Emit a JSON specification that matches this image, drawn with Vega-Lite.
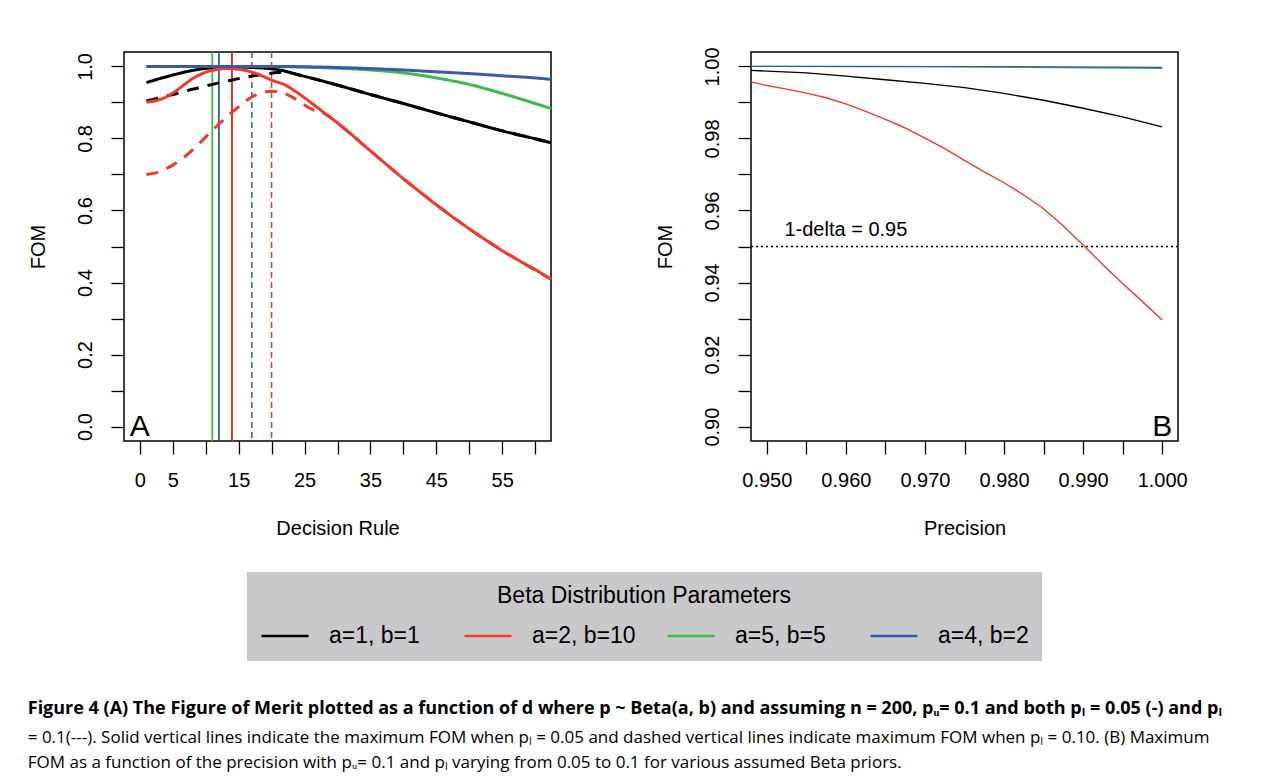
{
  "$schema": "https://vega.github.io/schema/vega-lite/v6.json",
  "background": "white",
  "padding": {"left": 27, "top": 46, "right": 0, "bottom": 4},
  "datasets": {
    "curvesA": [
      {"d": 1, "fom": 0.904, "prior": "a=1, b=1", "pL": "0.1"},
      {"d": 3, "fom": 0.913, "prior": "a=1, b=1", "pL": "0.1"},
      {"d": 5, "fom": 0.922, "prior": "a=1, b=1", "pL": "0.1"},
      {"d": 7, "fom": 0.932, "prior": "a=1, b=1", "pL": "0.1"},
      {"d": 9, "fom": 0.941, "prior": "a=1, b=1", "pL": "0.1"},
      {"d": 11, "fom": 0.95, "prior": "a=1, b=1", "pL": "0.1"},
      {"d": 13, "fom": 0.958, "prior": "a=1, b=1", "pL": "0.1"},
      {"d": 15, "fom": 0.966, "prior": "a=1, b=1", "pL": "0.1"},
      {"d": 17, "fom": 0.973, "prior": "a=1, b=1", "pL": "0.1"},
      {"d": 19, "fom": 0.979, "prior": "a=1, b=1", "pL": "0.1"},
      {"d": 21, "fom": 0.983, "prior": "a=1, b=1", "pL": "0.1"},
      {"d": 22, "fom": 0.984, "prior": "a=1, b=1", "pL": "0.1"},
      {"d": 23, "fom": 0.982, "prior": "a=1, b=1", "pL": "0.1"},
      {"d": 24, "fom": 0.977, "prior": "a=1, b=1", "pL": "0.1"},
      {"d": 27, "fom": 0.963, "prior": "a=1, b=1", "pL": "0.1"},
      {"d": 30, "fom": 0.948, "prior": "a=1, b=1", "pL": "0.1"},
      {"d": 35, "fom": 0.922, "prior": "a=1, b=1", "pL": "0.1"},
      {"d": 40, "fom": 0.897, "prior": "a=1, b=1", "pL": "0.1"},
      {"d": 45, "fom": 0.871, "prior": "a=1, b=1", "pL": "0.1"},
      {"d": 50, "fom": 0.846, "prior": "a=1, b=1", "pL": "0.1"},
      {"d": 55, "fom": 0.821, "prior": "a=1, b=1", "pL": "0.1"},
      {"d": 60, "fom": 0.799, "prior": "a=1, b=1", "pL": "0.1"},
      {"d": 62.4, "fom": 0.788, "prior": "a=1, b=1", "pL": "0.1"},
      {"d": 1, "fom": 0.955, "prior": "a=1, b=1", "pL": "0.05"},
      {"d": 3, "fom": 0.966, "prior": "a=1, b=1", "pL": "0.05"},
      {"d": 5, "fom": 0.976, "prior": "a=1, b=1", "pL": "0.05"},
      {"d": 7, "fom": 0.985, "prior": "a=1, b=1", "pL": "0.05"},
      {"d": 9, "fom": 0.992, "prior": "a=1, b=1", "pL": "0.05"},
      {"d": 11, "fom": 0.996, "prior": "a=1, b=1", "pL": "0.05"},
      {"d": 13, "fom": 0.998, "prior": "a=1, b=1", "pL": "0.05"},
      {"d": 15, "fom": 0.998, "prior": "a=1, b=1", "pL": "0.05"},
      {"d": 17, "fom": 0.997, "prior": "a=1, b=1", "pL": "0.05"},
      {"d": 19, "fom": 0.995, "prior": "a=1, b=1", "pL": "0.05"},
      {"d": 21, "fom": 0.991, "prior": "a=1, b=1", "pL": "0.05"},
      {"d": 24, "fom": 0.977, "prior": "a=1, b=1", "pL": "0.05"},
      {"d": 27, "fom": 0.963, "prior": "a=1, b=1", "pL": "0.05"},
      {"d": 30, "fom": 0.948, "prior": "a=1, b=1", "pL": "0.05"},
      {"d": 35, "fom": 0.922, "prior": "a=1, b=1", "pL": "0.05"},
      {"d": 40, "fom": 0.897, "prior": "a=1, b=1", "pL": "0.05"},
      {"d": 45, "fom": 0.871, "prior": "a=1, b=1", "pL": "0.05"},
      {"d": 50, "fom": 0.846, "prior": "a=1, b=1", "pL": "0.05"},
      {"d": 55, "fom": 0.821, "prior": "a=1, b=1", "pL": "0.05"},
      {"d": 60, "fom": 0.799, "prior": "a=1, b=1", "pL": "0.05"},
      {"d": 62.4, "fom": 0.788, "prior": "a=1, b=1", "pL": "0.05"},
      {"d": 1, "fom": 0.7, "prior": "a=2, b=10", "pL": "0.1"},
      {"d": 2, "fom": 0.703, "prior": "a=2, b=10", "pL": "0.1"},
      {"d": 3, "fom": 0.708, "prior": "a=2, b=10", "pL": "0.1"},
      {"d": 4, "fom": 0.716, "prior": "a=2, b=10", "pL": "0.1"},
      {"d": 5, "fom": 0.726, "prior": "a=2, b=10", "pL": "0.1"},
      {"d": 6, "fom": 0.738, "prior": "a=2, b=10", "pL": "0.1"},
      {"d": 7, "fom": 0.752, "prior": "a=2, b=10", "pL": "0.1"},
      {"d": 8, "fom": 0.768, "prior": "a=2, b=10", "pL": "0.1"},
      {"d": 9, "fom": 0.786, "prior": "a=2, b=10", "pL": "0.1"},
      {"d": 10, "fom": 0.804, "prior": "a=2, b=10", "pL": "0.1"},
      {"d": 11, "fom": 0.822, "prior": "a=2, b=10", "pL": "0.1"},
      {"d": 12, "fom": 0.84, "prior": "a=2, b=10", "pL": "0.1"},
      {"d": 13, "fom": 0.857, "prior": "a=2, b=10", "pL": "0.1"},
      {"d": 14, "fom": 0.873, "prior": "a=2, b=10", "pL": "0.1"},
      {"d": 15, "fom": 0.888, "prior": "a=2, b=10", "pL": "0.1"},
      {"d": 16, "fom": 0.903, "prior": "a=2, b=10", "pL": "0.1"},
      {"d": 17, "fom": 0.915, "prior": "a=2, b=10", "pL": "0.1"},
      {"d": 18, "fom": 0.924, "prior": "a=2, b=10", "pL": "0.1"},
      {"d": 19, "fom": 0.929, "prior": "a=2, b=10", "pL": "0.1"},
      {"d": 20, "fom": 0.931, "prior": "a=2, b=10", "pL": "0.1"},
      {"d": 21, "fom": 0.93, "prior": "a=2, b=10", "pL": "0.1"},
      {"d": 22, "fom": 0.925, "prior": "a=2, b=10", "pL": "0.1"},
      {"d": 23, "fom": 0.916, "prior": "a=2, b=10", "pL": "0.1"},
      {"d": 24, "fom": 0.905, "prior": "a=2, b=10", "pL": "0.1"},
      {"d": 25, "fom": 0.893, "prior": "a=2, b=10", "pL": "0.1"},
      {"d": 26, "fom": 0.882, "prior": "a=2, b=10", "pL": "0.1"},
      {"d": 27, "fom": 0.874, "prior": "a=2, b=10", "pL": "0.1"},
      {"d": 28, "fom": 0.869, "prior": "a=2, b=10", "pL": "0.1"},
      {"d": 30, "fom": 0.843, "prior": "a=2, b=10", "pL": "0.1"},
      {"d": 34, "fom": 0.781, "prior": "a=2, b=10", "pL": "0.1"},
      {"d": 40, "fom": 0.688, "prior": "a=2, b=10", "pL": "0.1"},
      {"d": 46, "fom": 0.602, "prior": "a=2, b=10", "pL": "0.1"},
      {"d": 52, "fom": 0.524, "prior": "a=2, b=10", "pL": "0.1"},
      {"d": 58, "fom": 0.456, "prior": "a=2, b=10", "pL": "0.1"},
      {"d": 62.4, "fom": 0.409, "prior": "a=2, b=10", "pL": "0.1"},
      {"d": 1, "fom": 0.901, "prior": "a=2, b=10", "pL": "0.05"},
      {"d": 2, "fom": 0.903, "prior": "a=2, b=10", "pL": "0.05"},
      {"d": 3, "fom": 0.908, "prior": "a=2, b=10", "pL": "0.05"},
      {"d": 4, "fom": 0.915, "prior": "a=2, b=10", "pL": "0.05"},
      {"d": 5, "fom": 0.926, "prior": "a=2, b=10", "pL": "0.05"},
      {"d": 6, "fom": 0.939, "prior": "a=2, b=10", "pL": "0.05"},
      {"d": 7, "fom": 0.953, "prior": "a=2, b=10", "pL": "0.05"},
      {"d": 8, "fom": 0.966, "prior": "a=2, b=10", "pL": "0.05"},
      {"d": 9, "fom": 0.976, "prior": "a=2, b=10", "pL": "0.05"},
      {"d": 10, "fom": 0.984, "prior": "a=2, b=10", "pL": "0.05"},
      {"d": 11, "fom": 0.989, "prior": "a=2, b=10", "pL": "0.05"},
      {"d": 12, "fom": 0.992, "prior": "a=2, b=10", "pL": "0.05"},
      {"d": 13, "fom": 0.994, "prior": "a=2, b=10", "pL": "0.05"},
      {"d": 14, "fom": 0.994, "prior": "a=2, b=10", "pL": "0.05"},
      {"d": 15, "fom": 0.992, "prior": "a=2, b=10", "pL": "0.05"},
      {"d": 16, "fom": 0.989, "prior": "a=2, b=10", "pL": "0.05"},
      {"d": 17, "fom": 0.984, "prior": "a=2, b=10", "pL": "0.05"},
      {"d": 18, "fom": 0.978, "prior": "a=2, b=10", "pL": "0.05"},
      {"d": 19, "fom": 0.97, "prior": "a=2, b=10", "pL": "0.05"},
      {"d": 20, "fom": 0.962, "prior": "a=2, b=10", "pL": "0.05"},
      {"d": 22, "fom": 0.949, "prior": "a=2, b=10", "pL": "0.05"},
      {"d": 24, "fom": 0.926, "prior": "a=2, b=10", "pL": "0.05"},
      {"d": 26, "fom": 0.899, "prior": "a=2, b=10", "pL": "0.05"},
      {"d": 28, "fom": 0.871, "prior": "a=2, b=10", "pL": "0.05"},
      {"d": 30, "fom": 0.843, "prior": "a=2, b=10", "pL": "0.05"},
      {"d": 32, "fom": 0.813, "prior": "a=2, b=10", "pL": "0.05"},
      {"d": 34, "fom": 0.781, "prior": "a=2, b=10", "pL": "0.05"},
      {"d": 36, "fom": 0.75, "prior": "a=2, b=10", "pL": "0.05"},
      {"d": 38, "fom": 0.719, "prior": "a=2, b=10", "pL": "0.05"},
      {"d": 40, "fom": 0.688, "prior": "a=2, b=10", "pL": "0.05"},
      {"d": 42, "fom": 0.659, "prior": "a=2, b=10", "pL": "0.05"},
      {"d": 44, "fom": 0.63, "prior": "a=2, b=10", "pL": "0.05"},
      {"d": 46, "fom": 0.602, "prior": "a=2, b=10", "pL": "0.05"},
      {"d": 48, "fom": 0.575, "prior": "a=2, b=10", "pL": "0.05"},
      {"d": 50, "fom": 0.549, "prior": "a=2, b=10", "pL": "0.05"},
      {"d": 52, "fom": 0.524, "prior": "a=2, b=10", "pL": "0.05"},
      {"d": 54, "fom": 0.5, "prior": "a=2, b=10", "pL": "0.05"},
      {"d": 56, "fom": 0.477, "prior": "a=2, b=10", "pL": "0.05"},
      {"d": 58, "fom": 0.456, "prior": "a=2, b=10", "pL": "0.05"},
      {"d": 60, "fom": 0.436, "prior": "a=2, b=10", "pL": "0.05"},
      {"d": 62.4, "fom": 0.409, "prior": "a=2, b=10", "pL": "0.05"},
      {"d": 1, "fom": 1.0, "prior": "a=5, b=5", "pL": "0.05"},
      {"d": 10, "fom": 1.0, "prior": "a=5, b=5", "pL": "0.05"},
      {"d": 20, "fom": 0.9995, "prior": "a=5, b=5", "pL": "0.05"},
      {"d": 25, "fom": 0.998, "prior": "a=5, b=5", "pL": "0.05"},
      {"d": 30, "fom": 0.995, "prior": "a=5, b=5", "pL": "0.05"},
      {"d": 35, "fom": 0.99, "prior": "a=5, b=5", "pL": "0.05"},
      {"d": 40, "fom": 0.982, "prior": "a=5, b=5", "pL": "0.05"},
      {"d": 45, "fom": 0.968, "prior": "a=5, b=5", "pL": "0.05"},
      {"d": 50, "fom": 0.95, "prior": "a=5, b=5", "pL": "0.05"},
      {"d": 55, "fom": 0.925, "prior": "a=5, b=5", "pL": "0.05"},
      {"d": 60, "fom": 0.897, "prior": "a=5, b=5", "pL": "0.05"},
      {"d": 62.4, "fom": 0.883, "prior": "a=5, b=5", "pL": "0.05"},
      {"d": 1, "fom": 1.0, "prior": "a=4, b=2", "pL": "0.05"},
      {"d": 10, "fom": 1.0, "prior": "a=4, b=2", "pL": "0.05"},
      {"d": 20, "fom": 1.0, "prior": "a=4, b=2", "pL": "0.05"},
      {"d": 25, "fom": 0.999, "prior": "a=4, b=2", "pL": "0.05"},
      {"d": 30, "fom": 0.997, "prior": "a=4, b=2", "pL": "0.05"},
      {"d": 35, "fom": 0.994, "prior": "a=4, b=2", "pL": "0.05"},
      {"d": 40, "fom": 0.99, "prior": "a=4, b=2", "pL": "0.05"},
      {"d": 45, "fom": 0.985, "prior": "a=4, b=2", "pL": "0.05"},
      {"d": 50, "fom": 0.98, "prior": "a=4, b=2", "pL": "0.05"},
      {"d": 55, "fom": 0.974, "prior": "a=4, b=2", "pL": "0.05"},
      {"d": 60, "fom": 0.968, "prior": "a=4, b=2", "pL": "0.05"},
      {"d": 62.4, "fom": 0.964, "prior": "a=4, b=2", "pL": "0.05"}
    ],
    "vlinesA": [
      {"d": 11, "prior": "a=5, b=5", "pL": "0.05"},
      {"d": 12, "prior": "a=4, b=2", "pL": "0.05"},
      {"d": 14, "prior": "a=1, b=1", "pL": "0.05"},
      {"d": 14, "prior": "a=2, b=10", "pL": "0.05"},
      {"d": 17, "prior": "a=4, b=2", "pL": "0.1"},
      {"d": 20, "prior": "a=2, b=10", "pL": "0.1"}
    ],
    "curvesB": [
      {"prec": 0.948, "fom": 0.9989, "prior": "a=1, b=1"},
      {"prec": 0.955, "fom": 0.9982, "prior": "a=1, b=1"},
      {"prec": 0.96, "fom": 0.9973, "prior": "a=1, b=1"},
      {"prec": 0.965, "fom": 0.9963, "prior": "a=1, b=1"},
      {"prec": 0.97, "fom": 0.9953, "prior": "a=1, b=1"},
      {"prec": 0.975, "fom": 0.9941, "prior": "a=1, b=1"},
      {"prec": 0.98, "fom": 0.9925, "prior": "a=1, b=1"},
      {"prec": 0.985, "fom": 0.9906, "prior": "a=1, b=1"},
      {"prec": 0.99, "fom": 0.9884, "prior": "a=1, b=1"},
      {"prec": 0.995, "fom": 0.986, "prior": "a=1, b=1"},
      {"prec": 1.0, "fom": 0.9832, "prior": "a=1, b=1"},
      {"prec": 0.948, "fom": 0.9957, "prior": "a=2, b=10"},
      {"prec": 0.95, "fom": 0.9947, "prior": "a=2, b=10"},
      {"prec": 0.9525, "fom": 0.9937, "prior": "a=2, b=10"},
      {"prec": 0.955, "fom": 0.9926, "prior": "a=2, b=10"},
      {"prec": 0.9575, "fom": 0.9913, "prior": "a=2, b=10"},
      {"prec": 0.96, "fom": 0.9896, "prior": "a=2, b=10"},
      {"prec": 0.9625, "fom": 0.9875, "prior": "a=2, b=10"},
      {"prec": 0.965, "fom": 0.9853, "prior": "a=2, b=10"},
      {"prec": 0.9675, "fom": 0.9829, "prior": "a=2, b=10"},
      {"prec": 0.97, "fom": 0.9801, "prior": "a=2, b=10"},
      {"prec": 0.9725, "fom": 0.9772, "prior": "a=2, b=10"},
      {"prec": 0.975, "fom": 0.9739, "prior": "a=2, b=10"},
      {"prec": 0.9775, "fom": 0.9707, "prior": "a=2, b=10"},
      {"prec": 0.98, "fom": 0.9677, "prior": "a=2, b=10"},
      {"prec": 0.9825, "fom": 0.9643, "prior": "a=2, b=10"},
      {"prec": 0.985, "fom": 0.9605, "prior": "a=2, b=10"},
      {"prec": 0.9875, "fom": 0.9557, "prior": "a=2, b=10"},
      {"prec": 0.99, "fom": 0.9504, "prior": "a=2, b=10"},
      {"prec": 0.9925, "fom": 0.9449, "prior": "a=2, b=10"},
      {"prec": 0.995, "fom": 0.9397, "prior": "a=2, b=10"},
      {"prec": 0.9975, "fom": 0.9347, "prior": "a=2, b=10"},
      {"prec": 1.0, "fom": 0.9296, "prior": "a=2, b=10"},
      {"prec": 0.948, "fom": 1.0, "prior": "a=5, b=5"},
      {"prec": 0.97, "fom": 0.99995, "prior": "a=5, b=5"},
      {"prec": 1.0, "fom": 0.9995, "prior": "a=5, b=5"},
      {"prec": 0.948, "fom": 1.0, "prior": "a=4, b=2"},
      {"prec": 0.98, "fom": 0.99995, "prior": "a=4, b=2"},
      {"prec": 1.0, "fom": 0.9997, "prior": "a=4, b=2"}
    ]
  },
  "config": {
    "view": {"stroke": "black", "strokeWidth": 1.5},
    "axis": {
      "domain": false, "grid": false, "ticks": true, "tickColor": "black", "tickSize": 13, "tickWidth": 1.3, "tickCount": 30,
      "labelFont": "Liberation Sans", "labelFontSize": 20, "labelColor": "black",
      "titleFont": "Liberation Sans", "titleFontSize": 20, "titleFontWeight": "normal", "titleColor": "black",
      "labelOverlap": false, "labelBound": false, "labelFlush": false
    },
    "axisX": {"labelPadding": 16, "titlePadding": 28},
    "axisY": {"labelAngle": 270, "labelAlign": "center", "labelBaseline": "bottom", "labelPadding": 15.5, "titlePadding": 27},
    "legend": {
      "orient": "none", "legendX": 123, "legendY": 520, "direction": "horizontal", "columns": 4, "gridAlign": "all",
      "fillColor": "#c9c9cb", "strokeColor": null, "padding": 13,
      "titleFont": "Liberation Sans", "titleFontSize": 23, "titleFontWeight": "normal", "titleColor": "black",
      "titleAnchor": "middle", "titleOrient": "top", "titlePadding": 3, "titleLimit": 1000,
      "labelFont": "Liberation Sans", "labelFontSize": 23, "labelColor": "black", "labelOffset": 19, "labelLimit": 1000,
      "symbolType": "stroke", "symbolSize": 2209, "symbolStrokeWidth": 2.5, "columnPadding": 26
    }
  },
  "hconcat": [
    {
      "width": 427,
      "height": 389,
      "layer": [
        {
          "data": {"name": "vlinesA"},
          "transform": [{"filter": "datum.pL == '0.05'"}],
          "mark": {"type": "rule", "strokeWidth": 1.8},
          "encoding": {
            "x": {"field": "d", "type": "quantitative", "title": "Decision Rule", "scale": {"domain": [-2.4, 62.4], "nice": false, "zero": false}},
            "color": {"field": "prior", "type": "nominal", "title": "Beta Distribution Parameters", "scale": {"domain": ["a=1, b=1", "a=2, b=10", "a=5, b=5", "a=4, b=2"], "range": ["#000000", "#ee3b2b", "#3fb94b", "#3a5aa8"]}}
          }
        },
        {
          "data": {"name": "vlinesA"},
          "transform": [{"filter": "datum.pL == '0.1'"}],
          "mark": {"type": "rule", "strokeWidth": 1.5, "strokeDash": [6, 4]},
          "encoding": {
            "x": {"field": "d", "type": "quantitative", "title": "Decision Rule", "scale": {"domain": [-2.4, 62.4], "nice": false, "zero": false}},
            "color": {"field": "prior", "type": "nominal", "title": "Beta Distribution Parameters", "scale": {"domain": ["a=1, b=1", "a=2, b=10", "a=5, b=5", "a=4, b=2"], "range": ["#000000", "#ee3b2b", "#3fb94b", "#3a5aa8"]}}
          }
        },
        {
          "data": {"name": "curvesA"},
          "mark": {"type": "line", "strokeWidth": 3, "interpolate": "monotone"},
          "encoding": {
            "x": {"field": "d", "type": "quantitative", "title": "Decision Rule", "scale": {"domain": [-2.4, 62.4], "nice": false, "zero": false},
                  "axis": {"tickCount": 30, "values": [0, 5, 10, 15, 20, 25, 30, 35, 40, 45, 50, 55, 60], "labelExpr": "datum.value == 0 || datum.value % 10 == 5 ? datum.label : ''"}},
            "y": {"field": "fom", "type": "quantitative", "title": "FOM", "scale": {"domain": [-0.04, 1.04], "nice": false, "zero": false},
                  "axis": {"tickCount": 30, "values": [0, 0.1, 0.2, 0.3, 0.4, 0.5, 0.6, 0.7, 0.8, 0.9, 1.0], "labelExpr": "round(datum.value * 10) % 2 == 0 ? format(datum.value, '.1f') : ''"}},
            "color": {"field": "prior", "type": "nominal", "title": "Beta Distribution Parameters", "scale": {"domain": ["a=1, b=1", "a=2, b=10", "a=5, b=5", "a=4, b=2"], "range": ["#000000", "#ee3b2b", "#3fb94b", "#3a5aa8"]}},
            "strokeDash": {"field": "pL", "type": "nominal", "scale": {"domain": ["0.05", "0.1"], "range": [[1, 0], [12, 9]]}, "legend": null}
          }
        },
        {
          "data": {"values": [{"d": 0, "fom": 0, "label": "A"}]},
          "mark": {"type": "text", "font": "Liberation Sans", "fontSize": 30, "align": "center", "baseline": "middle"},
          "encoding": {
            "x": {"field": "d", "type": "quantitative", "title": "Decision Rule", "scale": {"domain": [-2.4, 62.4], "nice": false, "zero": false}},
            "y": {"field": "fom", "type": "quantitative", "title": "FOM", "scale": {"domain": [-0.04, 1.04], "nice": false, "zero": false}},
            "text": {"field": "label"},
            "color": {"value": "black"}
          }
        }
      ]
    },
    {
      "width": 427,
      "height": 389,
      "layer": [
        {
          "data": {"name": "curvesB"},
          "mark": {"type": "line", "strokeWidth": 1.4},
          "encoding": {
            "x": {"field": "prec", "type": "quantitative", "title": "Precision", "scale": {"domain": [0.948, 1.002], "nice": false, "zero": false},
                  "axis": {"tickCount": 30, "values": [0.95, 0.955, 0.96, 0.965, 0.97, 0.975, 0.98, 0.985, 0.99, 0.995, 1.0], "labelExpr": "round(datum.value * 1000) % 10 == 0 ? format(datum.value, '.3f') : ''"}},
            "y": {"field": "fom", "type": "quantitative", "title": "FOM", "scale": {"domain": [0.896, 1.004], "nice": false, "zero": false},
                  "axis": {"tickCount": 30, "values": [0.9, 0.91, 0.92, 0.93, 0.94, 0.95, 0.96, 0.97, 0.98, 0.99, 1.0], "labelExpr": "round(datum.value * 100) % 2 == 0 ? format(datum.value, '.2f') : ''"}},
            "color": {"field": "prior", "type": "nominal", "title": "Beta Distribution Parameters", "scale": {"domain": ["a=1, b=1", "a=2, b=10", "a=5, b=5", "a=4, b=2"], "range": ["#000000", "#ee3b2b", "#3fb94b", "#3a5aa8"]}}
          }
        },
        {
          "data": {"values": [{"fom": 0.95}]},
          "mark": {"type": "rule", "color": "black", "strokeWidth": 1.3, "strokeDash": [2, 3]},
          "encoding": {
            "y": {"field": "fom", "type": "quantitative", "title": "FOM", "scale": {"domain": [0.896, 1.004], "nice": false, "zero": false}}
          }
        },
        {
          "data": {"values": [{"prec": 0.96, "fom": 0.9547, "label": "1-delta = 0.95"}, {"prec": 1.0, "fom": 0.9, "label": "B"}]},
          "mark": {"type": "text", "font": "Liberation Sans", "align": "center", "baseline": "middle", "color": "black"},
          "encoding": {
            "x": {"field": "prec", "type": "quantitative", "title": "Precision", "scale": {"domain": [0.948, 1.002], "nice": false, "zero": false}},
            "y": {"field": "fom", "type": "quantitative", "title": "FOM", "scale": {"domain": [0.896, 1.004], "nice": false, "zero": false}},
            "text": {"field": "label"},
            "size": {"condition": {"test": "datum.label == 'B'", "value": 30}, "value": 20}
          }
        }
      ]
    }
  ],
  "spacing": 96,
  "resolve": {"scale": {"color": "shared"}, "legend": {"color": "shared"}},
  "title": {
    "text": ["Figure 4 (A) The Figure of Merit plotted as a function of d where p ~ Beta(a, b) and assuming n = 200, pᵤ= 0.1 and both pₗ = 0.05 (-) and pₗ"],
    "subtitle": ["= 0.1(---). Solid vertical lines indicate the maximum FOM when pₗ = 0.05 and dashed vertical lines indicate maximum FOM when pₗ = 0.10. (B) Maximum", "FOM as a function of the precision with pᵤ= 0.1 and pₗ varying from 0.05 to 0.1 for various assumed Beta priors."],
    "orient": "bottom",
    "anchor": "start",
    "offset": 39,
    "font": "Open Sans",
    "fontSize": 18,
    "fontWeight": "bold",
    "color": "black",
    "lineHeight": 28,
    "subtitleFont": "Open Sans",
    "subtitleFontSize": 17,
    "subtitleColor": "black",
    "subtitleLineHeight": 25,
    "subtitlePadding": 12
  }
}
